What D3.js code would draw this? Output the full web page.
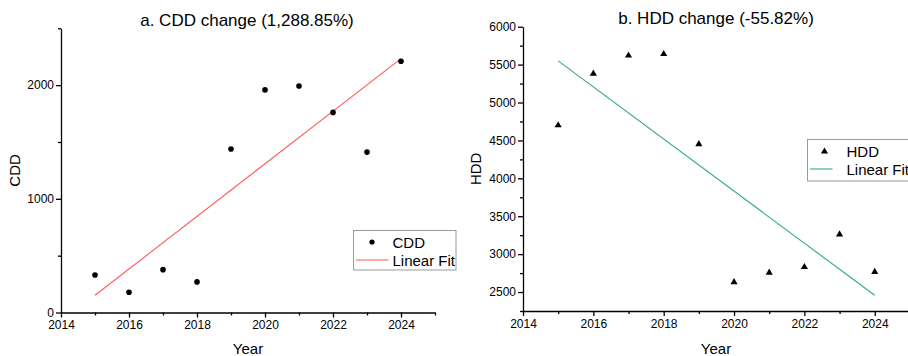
<!DOCTYPE html>
<html><head><meta charset="utf-8">
<script src="https://cdn.jsdelivr.net/npm/d3@7"></script>
<style>body{margin:0;background:#fff}svg{display:block}text{font-family:"Liberation Sans",Arial,sans-serif;fill:#000}</style>
</head><body><svg id="c" width="908" height="356"></svg>
<script>
const years = [2015,2016,2017,2018,2019,2020,2021,2022,2023,2024];
const cdd = [330,178,377,269,1438,1958,1993,1760,1411,2210];
const hdd = [4700,5380,5620,5640,4450,2630,2755,2830,3260,2765];
const xTicks = [2014,2016,2018,2020,2022,2024];
const cddTicks = [0,1000,2000];
const hddTicks = [2500,3000,3500,4000,4500,5000,5500,6000];

function fit(xs, ys){
  const n=xs.length, mx=d3.mean(xs), my=d3.mean(ys);
  let sxy=0,sxx=0; xs.forEach((x,i)=>{sxy+=(x-mx)*(ys[i]-my);sxx+=(x-mx)*(x-mx);});
  const b=sxy/sxx, a=my-b*mx;
  return [[xs[0],a+b*xs[0]],[xs[n-1],a+b*xs[n-1]]];
}

const svg=d3.select("#c");

function panel(o){
  const g=svg.append("g");
  const x=d3.scaleLinear().domain([2014,2025]).range([o.x0,o.x1]);
  const y=d3.scaleLinear().domain(o.yDom).range([o.yb,o.yt]);
  const gx=g.append("g").attr("transform",`translate(0,${o.yb})`)
    .call(d3.axisBottom(x).tickValues(xTicks).tickFormat(d3.format("d")).tickSize(5).tickSizeOuter(0));
  g.append("g").attr("transform",`translate(0,${o.yb})`)
    .call(d3.axisBottom(x).tickValues(d3.range(2015,2026,2)).tickFormat("").tickSize(3).tickSizeOuter(0))
    .select(".domain").remove();
  const gy=g.append("g").attr("transform",`translate(${o.x0},0)`)
    .call(d3.axisLeft(y).tickValues(o.yTicks).tickFormat(d3.format("d")).tickSize(5).tickSizeOuter(0));
  g.append("g").attr("transform",`translate(${o.x0},0)`)
    .call(d3.axisLeft(y).tickValues(o.yMinor).tickFormat("").tickSize(3).tickSizeOuter(0))
    .select(".domain").remove();
  g.selectAll(".tick text").style("font-size","12px").style("font-family","Liberation Sans, Arial, sans-serif");
  gx.selectAll(".tick text").attr("dy","0.71em").attr("y",8);
  gy.selectAll(".tick text").attr("x",-7);
  g.selectAll(".domain, .tick line").attr("stroke","#000").attr("stroke-width",1.3);

  const f=fit(years,o.vals);
  g.append("line").attr("x1",x(f[0][0])).attr("y1",y(f[0][1])).attr("x2",x(f[1][0])).attr("y2",y(f[1][1]))
    .attr("stroke",o.lc).attr("stroke-width",1.1);
  if(o.tri){
    g.selectAll(".pt").data(years).enter().append("path")
      .attr("d",d3.symbol().type(d3.symbolTriangle).size(22))
      .attr("transform",(d,i)=>`translate(${x(d)},${y(o.vals[i])})`).attr("fill","#000");
  } else {
    g.selectAll(".pt").data(years).enter().append("circle")
      .attr("cx",d=>x(d)).attr("cy",(d,i)=>y(o.vals[i])).attr("r",2.8).attr("fill","#000");
  }
  g.append("text").attr("x",o.tx).attr("y",o.ty).attr("text-anchor","middle").style("font-size","17px").text(o.title);
  g.append("text").attr("x",o.yearX).attr("y",354).attr("text-anchor","middle").style("font-size","15px").text("Year");
  g.append("text").attr("transform",`translate(${o.ylx},${(o.yb+o.yt)/2}) rotate(-90)`).attr("text-anchor","middle")
    .style("font-size","15px").text(o.ylab);
  const L=o.leg;
  g.append("rect").attr("x",L.x).attr("y",L.y).attr("width",L.w).attr("height",L.h)
    .attr("fill","#fff").attr("stroke","#999").attr("stroke-width",1);
  if(o.tri){
    g.append("path").attr("d",d3.symbol().type(d3.symbolTriangle).size(22)).attr("transform",`translate(${L.x+17},${L.y+12})`).attr("fill","#000");
  } else {
    g.append("circle").attr("cx",L.x+18.5).attr("cy",L.y+11.5).attr("r",2.6).attr("fill","#000");
  }
  g.append("text").attr("x",L.x+39).attr("y",L.y+17).style("font-size","15px").text(o.ylab);
  g.append("line").attr("x1",L.x+2.5).attr("x2",L.x+L.lw).attr("y1",L.y+29.5).attr("y2",L.y+29.5).attr("stroke",o.lc).attr("stroke-width",1.1);
  g.append("text").attr("x",L.x+39).attr("y",L.y+35).style("font-size","15px").text("Linear Fit");
}

panel({x0:61,x1:435,yb:312.5,yt:28.3,yDom:[0,2500],yTicks:cddTicks,yMinor:[500,1500,2500],vals:cdd,
  lc:"#ff5a5a",tri:false,title:"a. CDD change (1,288.85%)",tx:247,ty:26,yearX:248,ylx:20,ylab:"CDD",
  leg:{x:353.5,y:230.5,w:102.5,h:39.5,lw:35}});
panel({x0:523,x1:909.9,yb:311,yt:26.7,yDom:[2250,6000],yTicks:hddTicks,yMinor:d3.range(2250,6000,500),vals:hdd,
  lc:"#34a887",tri:true,title:"b. HDD change (-55.82%)",tx:716,ty:24,yearX:716,ylx:481,ylab:"HDD",
  leg:{x:807.5,y:139.5,w:110,h:41.5,lw:25}});
</script></body></html>
